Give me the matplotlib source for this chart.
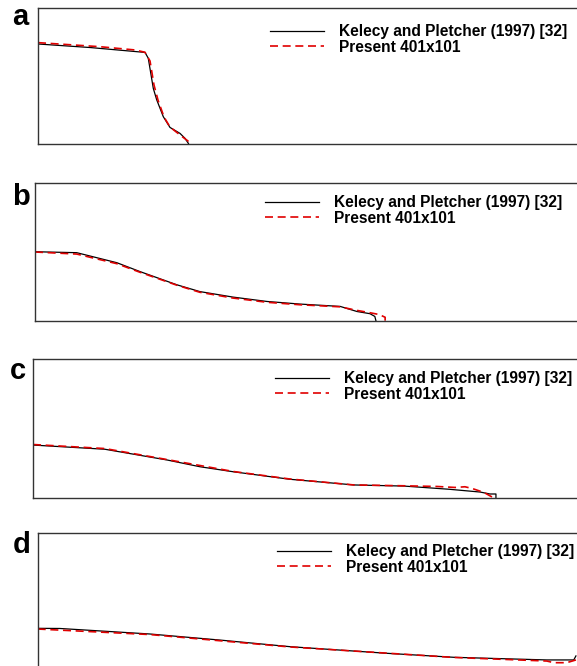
import numpy as np
import matplotlib
matplotlib.use('Agg')
import matplotlib.pyplot as plt

plt.rcParams['font.family'] = ['Liberation Sans', 'DejaVu Sans']

# values: x as fraction of visible axis width, y as fraction of axis height
a_ref_x = [0, 0.0965, 0.1985, 0.2046, 0.2139, 0.2202, 0.2325, 0.2449, 0.2635, 0.2727, 0.2789, 0.2795]
a_ref_y = [0.737, 0.711, 0.675, 0.632, 0.410, 0.326, 0.201, 0.122, 0.078, 0.042, 0.005, 0.0]
a_num_x = [0, 0.115, 0.180, 0.1985, 0.2078, 0.2152, 0.2226, 0.2338, 0.2449, 0.256, 0.2709, 0.2783, 0.282]
a_num_y = [0.747, 0.717, 0.693, 0.676, 0.612, 0.435, 0.324, 0.199, 0.125, 0.090, 0.044, 0.022, 0.0]

b_ref_x = [0, 0.077, 0.151, 0.194, 0.262, 0.304, 0.365, 0.428, 0.489, 0.563, 0.594, 0.618, 0.627, 0.629]
b_ref_y = [0.502, 0.495, 0.422, 0.357, 0.261, 0.212, 0.172, 0.140, 0.121, 0.104, 0.067, 0.051, 0.031, 0.0]
b_num_x = [0, 0.077, 0.151, 0.194, 0.262, 0.304, 0.365, 0.428, 0.489, 0.563, 0.594, 0.618, 0.635, 0.646, 0.646]
b_num_y = [0.500, 0.485, 0.415, 0.352, 0.258, 0.207, 0.165, 0.134, 0.116, 0.101, 0.075, 0.058, 0.045, 0.025, 0.0]

c_ref_x = [0, 0.132, 0.246, 0.307, 0.368, 0.472, 0.590, 0.682, 0.765, 0.822, 0.840, 0.851, 0.851]
c_ref_y = [0.383, 0.353, 0.276, 0.227, 0.191, 0.137, 0.096, 0.088, 0.065, 0.045, 0.031, 0.031, 0.0]
c_num_x = [0, 0.132, 0.246, 0.368, 0.472, 0.590, 0.682, 0.743, 0.776, 0.794, 0.807, 0.829, 0.844, 0.847]
c_num_y = [0.387, 0.358, 0.279, 0.193, 0.139, 0.096, 0.090, 0.085, 0.078, 0.083, 0.071, 0.042, 0.009, 0.0]

d_ref_x = [0, 0.041, 0.208, 0.338, 0.468, 0.648, 0.772, 0.944, 0.994, 0.998]
d_ref_y = [0.307, 0.306, 0.266, 0.222, 0.174, 0.126, 0.097, 0.078, 0.078, 0.107]
d_num_x = [0, 0.208, 0.468, 0.772, 0.944, 0.957, 0.981, 0.998]
d_num_y = [0.302, 0.262, 0.172, 0.096, 0.070, 0.058, 0.058, 0.078]

panels = [
    ('a', a_ref_x, a_ref_y, a_num_x, a_num_y),
    ('b', b_ref_x, b_ref_y, b_num_x, b_num_y),
    ('c', c_ref_x, c_ref_y, c_num_x, c_num_y),
    ('d', d_ref_x, d_ref_y, d_num_x, d_num_y),
]

ref_label = 'Kelecy and Pletcher (1997) [32]'
num_label = 'Present 401x101'

W, H = 577.0, 666.0
# layout in pixels: left, top, bottom, legend left, legend first row, letter x, letter baseline
boxes = [
    (38, 8.3, 144.0, 270, 32, 12, 25),
    (35, 183.3, 320.7, 265, 203, 12, 205),
    (33, 359.3, 498.3, 275, 379, 10, 379),
    (37.7, 532.7, 670.7, 277, 552, 13, 553),
]

fig = plt.figure(figsize=(W / 100, H / 100), dpi=100)

for (tag, rx, ry, nx, ny), (l, t, b, lx, ly, tx, ty) in zip(panels, boxes):
    ax = fig.add_axes([l / W, 1 - b / H, (W - l) / W, (b - t) / H])
    ax.plot(rx, ry, color='black', lw=0.9, label=ref_label)
    ax.plot(nx, ny, color='#e00000', lw=1.2, ls=(0, (4.8, 2.8)), label=num_label)
    ax.set_xlim(0, 1)
    ax.set_ylim(0, 1)
    ax.set_xticks([])
    ax.set_yticks([])
    ax.spines['right'].set_visible(False)
    for s in ['left', 'top', 'bottom']:
        ax.spines[s].set_color('#333333')
        ax.spines[s].set_linewidth(1.0)
    ax.legend(loc='upper left', bbox_to_anchor=(lx / W, 1 - (ly - 8) / H),
              bbox_transform=fig.transFigure, frameon=False, borderpad=0,
              borderaxespad=0, handlelength=3.5, handletextpad=0.95,
              labelspacing=0.06, prop={'weight': 'bold', 'size': 11.2})
    fig.text(tx / W, 1 - ty / H, tag, fontsize=21, fontweight='bold',
             ha='left', va='baseline')

fig.savefig('out.png', dpi=100)
